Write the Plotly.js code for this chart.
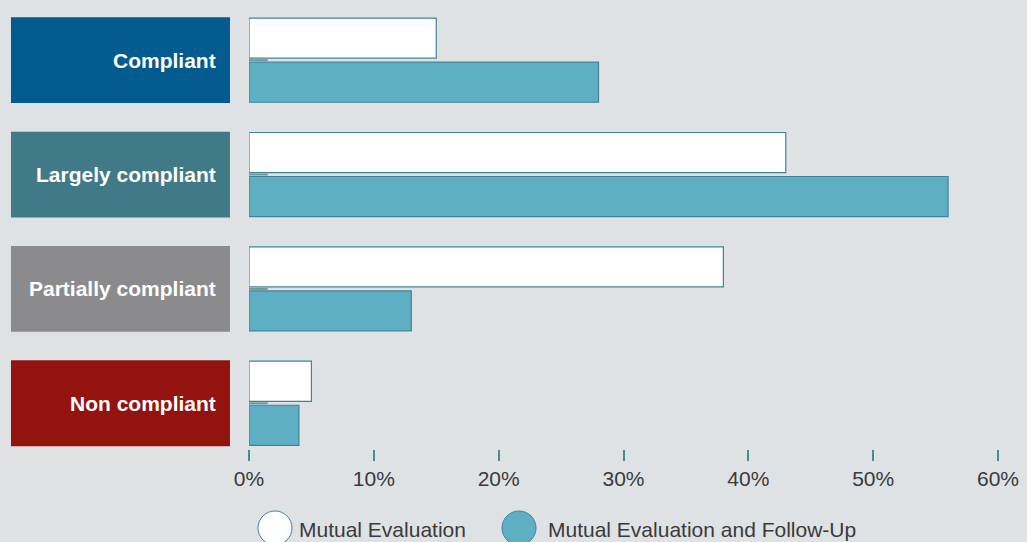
<!DOCTYPE html>
<html>
<head>
<meta charset="utf-8">
<script src="https://cdn.plot.ly/plotly-3.0.1.min.js"></script>
<style>html,body{margin:0;padding:0;background:#dfe2e5;}#chart{width:1027px;height:542px;}</style>
</head>
<body>
<div id="chart"></div>
<script>
const categories = ["Compliant", "Largely compliant", "Partially compliant", "Non compliant"];
const categoryColors = ["#025a8f", "#417a87", "#8b8b8d", "#93140e"];
const mutualEvaluation = [15, 43, 38, 5];
const mutualEvaluationFollowUp = [28, 56, 13, 4];
const seriesNames = ["Mutual Evaluation", "Mutual Evaluation and Follow-Up"];
const tickValues = [0, 10, 20, 30, 40, 50, 60];
const tickLabels = ["0%", "10%", "20%", "30%", "40%", "50%", "60%"];

const teal = "#5eafc4";
const tealLine = "#3f8595";
const font = "Liberation Sans, Arial, sans-serif";

const traces = [
  {type: "bar", orientation: "h", name: seriesNames[0], y: categories, x: mutualEvaluation,
   marker: {color: "#ffffff", line: {color: tealLine, width: 1.2}}, showlegend: false, hoverinfo: "x+name"},
  {type: "bar", orientation: "h", name: seriesNames[1], y: categories, x: mutualEvaluationFollowUp,
   marker: {color: teal, line: {color: tealLine, width: 1.2}}, showlegend: false, hoverinfo: "x+name"}
];

const shapes = [];
const annotations = [];
categories.forEach((c, i) => {
  shapes.push({type: "rect", xref: "paper", yref: "y", x0: -0.3178, x1: -0.0254, y0: i - 0.375, y1: i + 0.375,
    fillcolor: categoryColors[i], line: {width: 0}, layer: "below"});
  shapes.push({type: "line", xref: "x", yref: "y", x0: 0, x1: 1.5, y0: i, y1: i,
    line: {color: "#6f97a1", width: 2}});
  annotations.push({xref: "paper", yref: "y", x: -0.0414, y: i, xanchor: "right", yanchor: "middle",
    text: "<b>" + c + "</b>", showarrow: false, font: {family: font, size: 21, color: "#ffffff"}});
});

// legend drawn manually with circles
const legendY = -0.1771;
const legendItems = [
  {cx: 0.0347, tx: 0.0641, fill: "#ffffff"},
  {cx: 0.3605, tx: 0.3965, fill: teal}
];
legendItems.forEach((it, k) => {
  shapes.push({type: "circle", xref: "paper", yref: "paper", xsizemode: "pixel", ysizemode: "pixel",
    xanchor: it.cx, yanchor: legendY, x0: -17, x1: 17, y0: -17, y1: 17,
    fillcolor: it.fill, line: {color: tealLine, width: 1}});
  annotations.push({xref: "paper", yref: "paper", x: it.tx, y: legendY - 0.004, xanchor: "left", yanchor: "middle",
    text: seriesNames[k], showarrow: false, font: {family: font, size: 21, color: "#3a3a3a"}});
});

const layout = {
  width: 1027, height: 542,
  margin: {l: 249, r: 29, t: 3, b: 93},
  paper_bgcolor: "#dfe2e5", plot_bgcolor: "#dfe2e5",
  barmode: "group", bargap: 0.23, bargroupgap: 0.09,
  xaxis: {range: [0, 60], tickvals: tickValues, ticktext: tickLabels, ticks: "outside", ticklen: 11, tickwidth: 2,
    tickcolor: "#4a8a97", showgrid: false, zeroline: false, showline: false,
    tickfont: {family: font, size: 21, color: "#3a3a3a"}},
  yaxis: {type: "category", range: [3.4, -0.5], showticklabels: false, showgrid: false, zeroline: false, showline: false, ticks: ""},
  shapes: shapes, annotations: annotations, showlegend: false
};

Plotly.newPlot("chart", traces, layout, {displayModeBar: false, staticPlot: true});
</script>
</body>
</html>
